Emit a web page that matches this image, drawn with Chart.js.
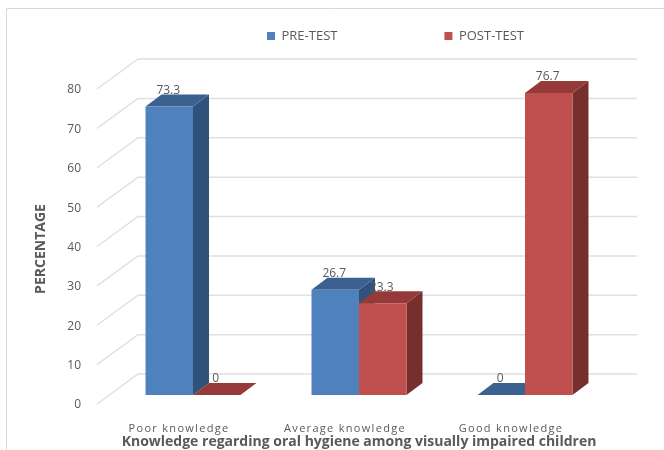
<!DOCTYPE html>
<html>
<head>
<meta charset="utf-8">
<style>html,body{margin:0;padding:0;background:#fff}#w{width:664px;height:450px}</style>
<script src="https://cdn.jsdelivr.net/npm/chart.js@4"></script>
</head>
<body>
<div id="w"><canvas id="c"></canvas></div>
<script>
const categories = ["Poor knowledge", "Average knowledge", "Good knowledge"];
const preTest = [73.3, 26.7, 0];
const postTest = [0, 23.3, 76.7];
const seriesNames = ["PRE-TEST", "POST-TEST"];
const frontColors = ["#4f81bd", "#c0504d"];
const topColors = ["#3a6190", "#953a38"];
const sideColors = ["#30527a", "#772f2d"];
const yAxisTitle = "PERCENTAGE";
const xAxisTitle = "Knowledge regarding oral hygiene among visually impaired children";
const FONT = '"Open Sans"';
const TXT = "#595959";
const GRID = "#e0e0e0";

const frame3d = {
  id: "frame3d",
  afterLayout(chart) {
    const l = chart.legend;
    l.left = 160; l.right = 640; l.top = -77.5; l.bottom = 46;
  },
  beforeDraw(chart) {
    const c = chart.ctx;
    c.save();
    c.strokeStyle = "#d9d9d9"; c.lineWidth = 1;
    c.beginPath();
    c.moveTo(6.5, 450); c.lineTo(6.5, 8.5); c.lineTo(664, 8.5);
    c.stroke();
    c.fillStyle = TXT;
    c.font = "bold 14px " + FONT;
    c.textAlign = "center"; c.textBaseline = "middle";
    c.translate(41, 249); c.rotate(-Math.PI / 2);
    c.fillText(yAxisTitle, 0, 0);
    c.restore();
    const sx = chart.scales.x;
    if (!sx._spaced) {
      sx._spaced = true;
      const orig = sx.drawLabels;
      sx.drawLabels = function (a) { const k = this.ctx; k.save(); k.letterSpacing = "1.3px"; orig.call(this, a); k.restore(); };
    }
  },
  beforeDatasetsDraw(chart) {
    const c = chart.ctx, y = chart.scales.y;
    c.save();
    // depth walls and gridlines
    c.strokeStyle = GRID; c.lineWidth = 1.5;
    y.ticks.forEach(t => {
      const p = y.getPixelForValue(t.value);
      c.beginPath();
      c.moveTo(97, p + 9); c.lineTo(138, p - 21); c.lineTo(637, p - 21);
      c.stroke();
    });
    const dx = 16, dy = 12;
    chart.data.datasets.forEach((ds, di) => {
      const bars = chart.getDatasetMeta(di).data;
      // value labels first: this series' bar tops partly cover them
      c.fillStyle = TXT;
      c.font = "12px " + FONT;
      c.textAlign = "center"; c.textBaseline = "middle";
      bars.forEach((b, i) => {
        c.fillText(String(ds.data[i]), b.x - 1, b.y - 16);
      });
      // 3D sides and tops
      bars.forEach(b => {
        const l = b.x - b.width / 2, r = b.x + b.width / 2, t = b.y, bt = b.base;
        if (bt - t > 0.5) {
          c.fillStyle = sideColors[di];
          c.beginPath();
          c.moveTo(r, t); c.lineTo(r + dx, t - dy); c.lineTo(r + dx, bt - dy); c.lineTo(r, bt);
          c.closePath(); c.fill();
        }
        c.fillStyle = topColors[di];
        c.beginPath();
        c.moveTo(l, t); c.lineTo(l + dx, t - dy); c.lineTo(r + dx, t - dy); c.lineTo(r, t);
        c.closePath(); c.fill();
      });
    });
    c.restore();
  }
};

new Chart(document.getElementById("c"), {
  type: "bar",
  data: {
    labels: categories,
    datasets: [
      { label: seriesNames[0], data: preTest, backgroundColor: frontColors[0], borderWidth: 0 },
      { label: seriesNames[1], data: postTest, backgroundColor: frontColors[1], borderWidth: 0 }
    ]
  },
  options: {
    responsive: true,
    maintainAspectRatio: false,
    animation: false,
    layout: { padding: { top: 80, right: 56, left: 0, bottom: 0 } },
    datasets: { bar: { categoryPercentage: 0.572, barPercentage: 1 } },
    plugins: {
      tooltip: { enabled: false },
      legend: {
        position: "chartArea",
        align: "start",
        labels: { boxWidth: 8, boxHeight: 8, padding: 107, color: TXT, font: { family: FONT, size: 13 } }
      }
    },
    scales: {
      x: {
        grid: { display: false },
        border: { display: false },
        afterFit(s) { s.height = 55; },
        ticks: { color: TXT, padding: 19, labelOffset: -14, maxRotation: 0, font: { family: FONT, size: 11 } },
        title: { display: true, text: xAxisTitle, color: TXT, padding: { top: 0, bottom: 0 }, font: { family: FONT, size: 14, weight: "bold" } }
      },
      y: {
        min: 0, max: 80,
        grid: { display: false },
        border: { display: false },
        afterFit(s) { s.width = 110; },
        ticks: { stepSize: 10, color: TXT, padding: 21, labelOffset: 10, font: { family: FONT, size: 12 } }
      }
    }
  },
  plugins: [frame3d]
});
</script>
</body>
</html>
